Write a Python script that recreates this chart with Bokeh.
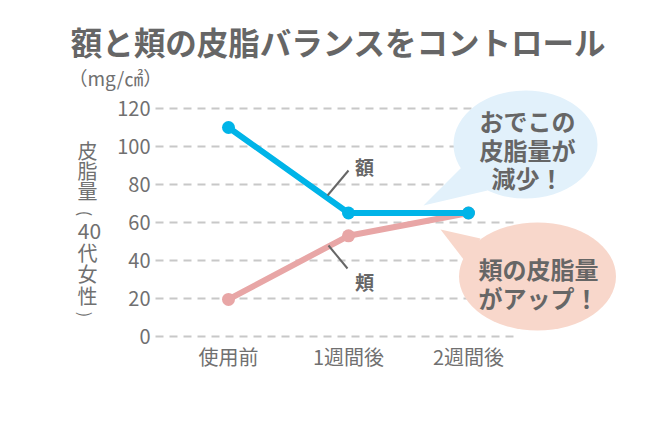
import math

from bokeh.plotting import figure
from bokeh.models import FixedTicker, Label, Range1d
from bokeh.embed import file_html
from bokeh.resources import INLINE

# --- data -------------------------------------------------------------
periods = ["使用前", "1週間後", "2週間後"]
forehead = [110, 65, 65]     # 額
cheek = [19.5, 53, 65]       # 頬
y_ticks = [0, 20, 40, 60, 80, 100, 120]

title_text = "額と頬の皮脂バランスをコントロール"
unit_text = "（mg/㎠）"
y_label_chars = ["皮", "脂", "量", "(", "40", "代", "女", "性", ")"]
bubble_blue_lines = ["おでこの", "皮脂量が", "減少！"]
bubble_pink_lines = ["頬の皮脂量", "がアップ！"]

FONT = "Noto Sans CJK JP"
TEXT = "#666666"
AXIS_TEXT = "#707070"
BLUE = "#00b4e8"
PINK = "#e8a6a6"

W, H = 670, 434
PX_X, X0 = 120.0, 228.0              # pixels per category step, pixel column of first category
PX_Y, Y0 = 1.9, 336.0                # pixels per unit, pixel row of zero


def px(x):
    """canvas pixel column -> data x"""
    return (x - X0) / PX_X


def py(y):
    """canvas pixel row -> data y"""
    return (Y0 - y) / PX_Y


x_idx = list(range(len(periods)))

# the plotting frame fills the whole canvas; axes sit at fixed positions inside it
p = figure(width=W, height=H, output_backend="svg", toolbar_location=None,
           x_range=Range1d(px(0), px(W)), y_range=Range1d(py(H), py(0)),
           min_border=0, min_border_left=0, min_border_right=0,
           min_border_top=0, min_border_bottom=0)
p.outline_line_color = None
p.xgrid.visible = False
p.ygrid.visible = False
p.background_fill_color = "white"
p.border_fill_color = "white"

p.yaxis.ticker = FixedTicker(ticks=y_ticks)
p.xaxis.ticker = FixedTicker(ticks=x_idx)
p.xaxis.major_label_overrides = {i: s for i, s in zip(x_idx, periods)}
for ax in (p.xaxis, p.yaxis):
    ax.axis_line_color = None
    ax.major_tick_line_color = None
    ax.minor_tick_line_color = None
    ax.major_tick_out = 0
    ax.major_tick_in = 0
    ax.major_label_text_font = FONT
    ax.major_label_text_color = AXIS_TEXT
    ax.major_label_text_font_size = "20px"
p.yaxis.fixed_location = px(155)
p.yaxis.major_label_standoff = 5
p.xaxis.fixed_location = py(339)
p.xaxis.major_label_standoff = 2

# dashed guide lines
gx0, gx1 = px(155), px(515)
p.segment(x0=[gx0] * len(y_ticks), x1=[gx1] * len(y_ticks), y0=y_ticks, y1=y_ticks,
          line_color="#c8c8c8", line_width=2, line_dash="8 6")

# speech bubbles
p.ellipse(x=[px(525)], y=[py(144)], width=[144 / PX_X], height=[108 / PX_Y],
          fill_color="#e2f1fb", line_color=None)
p.patch(x=[px(423), px(462), px(487)], y=[py(205), py(166), py(190)],
        fill_color="#e2f1fb", line_color=None)
p.ellipse(x=[px(537)], y=[py(276)], width=[157 / PX_X], height=[108 / PX_Y],
          fill_color="#f8d7cb", line_color=None)
p.patch(x=[px(440), px(480), px(467)], y=[py(229), py(238), py(264)],
        fill_color="#f8d7cb", line_color=None)

# series
p.line(x_idx, cheek, line_color=PINK, line_width=6)
p.scatter(x_idx, cheek, size=13, fill_color=PINK, line_color=None)
p.line(x_idx, forehead, line_color=BLUE, line_width=6)
p.scatter(x_idx, forehead, size=13, fill_color=BLUE, line_color=None)

# series name callouts
p.segment(x0=[px(327), px(328)], y0=[py(195), py(245)],
          x1=[px(348), px(347)], y1=[py(170), py(268)],
          line_color="#666666", line_width=2)


def label(x, y, text, size, weight="normal", color=TEXT, align="center", angle=0.0):
    p.add_layout(Label(x=x, y=y, text=text, text_font=FONT, text_font_size=size,
                       text_font_style=weight, text_color=color, angle=angle,
                       text_align=align, text_baseline="middle"))


label(px(364), py(166), "額", "19px", "bold")
label(px(364), py(281), "頬", "19px", "bold")

for i, s in enumerate(bubble_blue_lines):
    label(px(527), py(120 + 28.5 * i), s, "24px", "bold")
for i, s in enumerate(bubble_pink_lines):
    label(px(538), py(268 + 29 * i), s, "24px", "bold")

# title and unit
label(px(338), py(40), title_text, "31.5px", "bold")
label(px(68), py(77), unit_text, "19px", "normal", AXIS_TEXT, "left")

# vertical axis caption, one cell per row; brackets turned for vertical writing
row_y = [150, 170, 190, 213, 230, 252, 273, 295, 314]
for ch, yy in zip(y_label_chars, row_y):
    if ch in "()":
        label(px(85), py(yy), ch, "16px", "normal", AXIS_TEXT, angle=-math.pi / 2)
    elif ch.isdigit():
        label(px(89), py(yy), ch, "21px", "normal", AXIS_TEXT)
    else:
        label(px(87), py(yy), ch, "20px", "normal", AXIS_TEXT)

open("out.html", "w").write(file_html(p, INLINE))
